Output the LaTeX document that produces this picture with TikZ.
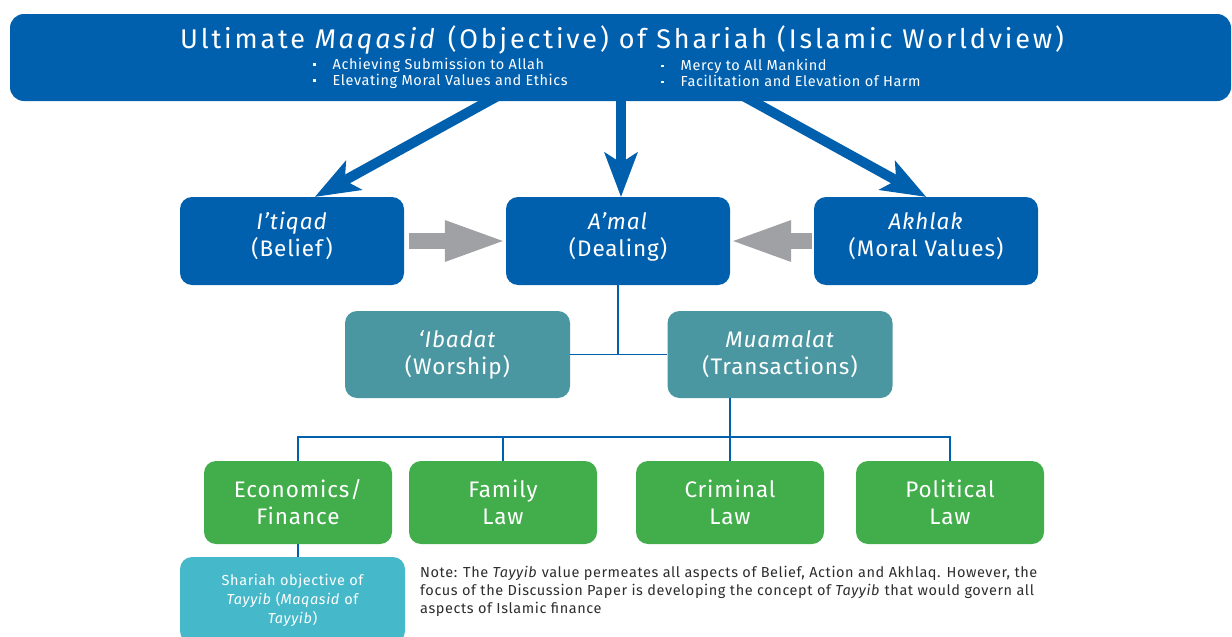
\documentclass[tikz,border=0pt]{standalone}
\usepackage{fontspec}
\setmainfont[LetterSpace=4]{Fira Sans}
\newfontfamily\titlefont[LetterSpace=10.5]{Fira Sans}
\usetikzlibrary{arrows.meta}
\definecolor{mqblue}{RGB}{0,96,174}
\definecolor{mqteal}{RGB}{75,151,161}
\definecolor{mqgreen}{RGB}{66,173,75}
\definecolor{mqgray}{RGB}{160,161,164}
\definecolor{mqcyan}{RGB}{69,185,201}
\definecolor{notegray}{RGB}{45,45,45}
\newcommand\aimdot{\raisebox{0.22em}{\rule{2.5pt}{2.5pt}}\hspace{17pt}}
\newcommand\liftlines[1]{\raisebox{3.5pt}[\height][\depth]{\begin{tabular}{@{}c@{}}#1\end{tabular}}}
\tikzset{
  blockbox/.style={rounded corners=12pt, text=white, align=center, inner sep=0pt,
    minimum width=224pt, minimum height=88pt, font=\fontsize{22.5}{27}\selectfont},
  pillarbox/.style={blockbox, fill=mqblue},
  branchbox/.style={blockbox, fill=mqteal, minimum width=225pt, minimum height=87pt},
  lawbox/.style={blockbox, fill=mqgreen, minimum width=188pt, minimum height=83pt},
  aimarrow/.style={draw=mqblue, line width=10pt,
    -{Stealth[length=45pt, width=34pt, inset=11pt, line width=0pt]}},
  shiftarrow/.style={draw=mqgray, line width=16pt,
    -{Triangle[length=58pt, width=42pt, line width=0pt]}},
  link/.style={draw=mqblue, line width=1.3pt}
}
\begin{document}
\begin{tikzpicture}[x=1pt, y=-1pt]
  \clip (0,0) rectangle (1232,637);
  % Banner with the objectives
  \node[fill=mqblue, rounded corners=14pt, minimum width=1221pt, minimum height=87pt,
    inner sep=0pt] (banner) at (620.5,57.5) {};
  \node[text=white, font=\titlefont\fontsize{27}{30}\selectfont] (title) at (622,40)
    {Ultimate \textit{Maqasid} (Objective) of Shariah (Islamic Worldview)};
  \node[anchor=west, align=left, text=white, inner sep=0pt,
    font=\fontsize{14.5}{16}\selectfont] (aimsleft) at (313,73)
    {\aimdot Achieving Submission to Allah\\ \aimdot Elevating Moral Values and Ethics};
  \node[anchor=west, align=left, text=white, inner sep=0pt,
    font=\fontsize{14.5}{16}\selectfont] (aimsright) at (661,73)
    {\aimdot Mercy to All Mankind\\ \aimdot Facilitation and Elevation of Harm};
  \coordinate (fromleft) at (505,92);
  \coordinate (frommid) at (621,92);
  \coordinate (fromright) at (736,92);
  % Three pillars
  \node[pillarbox] (itiqad) at (292,241) {\liftlines{\textit{I’tiqad}\\(Belief)}};
  \node[pillarbox] (amal) at (618,241) {\liftlines{\textit{A’mal}\\(Dealing)}};
  \node[pillarbox] (akhlak) at (926,241) {\liftlines{\textit{Akhlak}\\(Moral Values)}};
  \draw[aimarrow] (fromleft) -- ([xshift=23pt]itiqad.north);
  \draw[aimarrow] (frommid) -- (frommid |- amal.north);
  \draw[aimarrow] (fromright) -- (akhlak.north);
  \draw[shiftarrow, shorten <=5pt, shorten >=3pt] (itiqad) -- (amal);
  \draw[shiftarrow, shorten <=2pt, shorten >=3pt] (akhlak) -- (amal);
  % Worship and transactions
  \node[branchbox] (ibadat) at (457.5,354.5) {\textit{‘Ibadat}\\(Worship)};
  \node[branchbox] (muamalat) at (780,354.5) {\textit{Muamalat}\\(Transactions)};
  \draw[link] (amal.south) -- (amal.south |- ibadat.east);
  \draw[link] (ibadat.east) -- (muamalat.west);
  % Fields of law
  \node[lawbox] (econ) at (298,502.5) {Economics/\\Finance};
  \node[lawbox] (family) at (503,502.5) {Family\\Law};
  \node[lawbox] (criminal) at (730,502.5) {Criminal\\Law};
  \node[lawbox] (political) at (950,502.5) {Political\\Law};
  \coordinate (bus) at (0,437);
  \draw[link] (criminal.north |- muamalat.south) -- (criminal.north);
  \draw[link] (econ.north) -- (econ.north |- bus) -- (political.north |- bus) -- (political.north);
  \draw[link] (family.north) -- (family.north |- bus);
  % Tayyib and note
  \node[blockbox, fill=mqcyan, minimum width=225pt, minimum height=86pt,
    font=\fontsize{14.5}{19}\selectfont] (tayyib) at (292.5,600)
    {Shariah objective of\\ \textit{Tayyib} (\textit{Maqasid} of\\ \textit{Tayyib})};
  \draw[link] (econ.south) -- (econ.south |- tayyib.north);
  \node[anchor=north west, align=left, text=notegray, inner sep=0pt,
    font=\fontsize{14.5}{18}\selectfont] (note) at (420,566)
    {Note: The \textit{Tayyib} value permeates all aspects of Belief, Action and Akhlaq. However, the\\
     focus of the Discussion Paper is developing the concept of \textit{Tayyib} that would govern all\\
     aspects of Islamic finance};
\end{tikzpicture}
\end{document}
